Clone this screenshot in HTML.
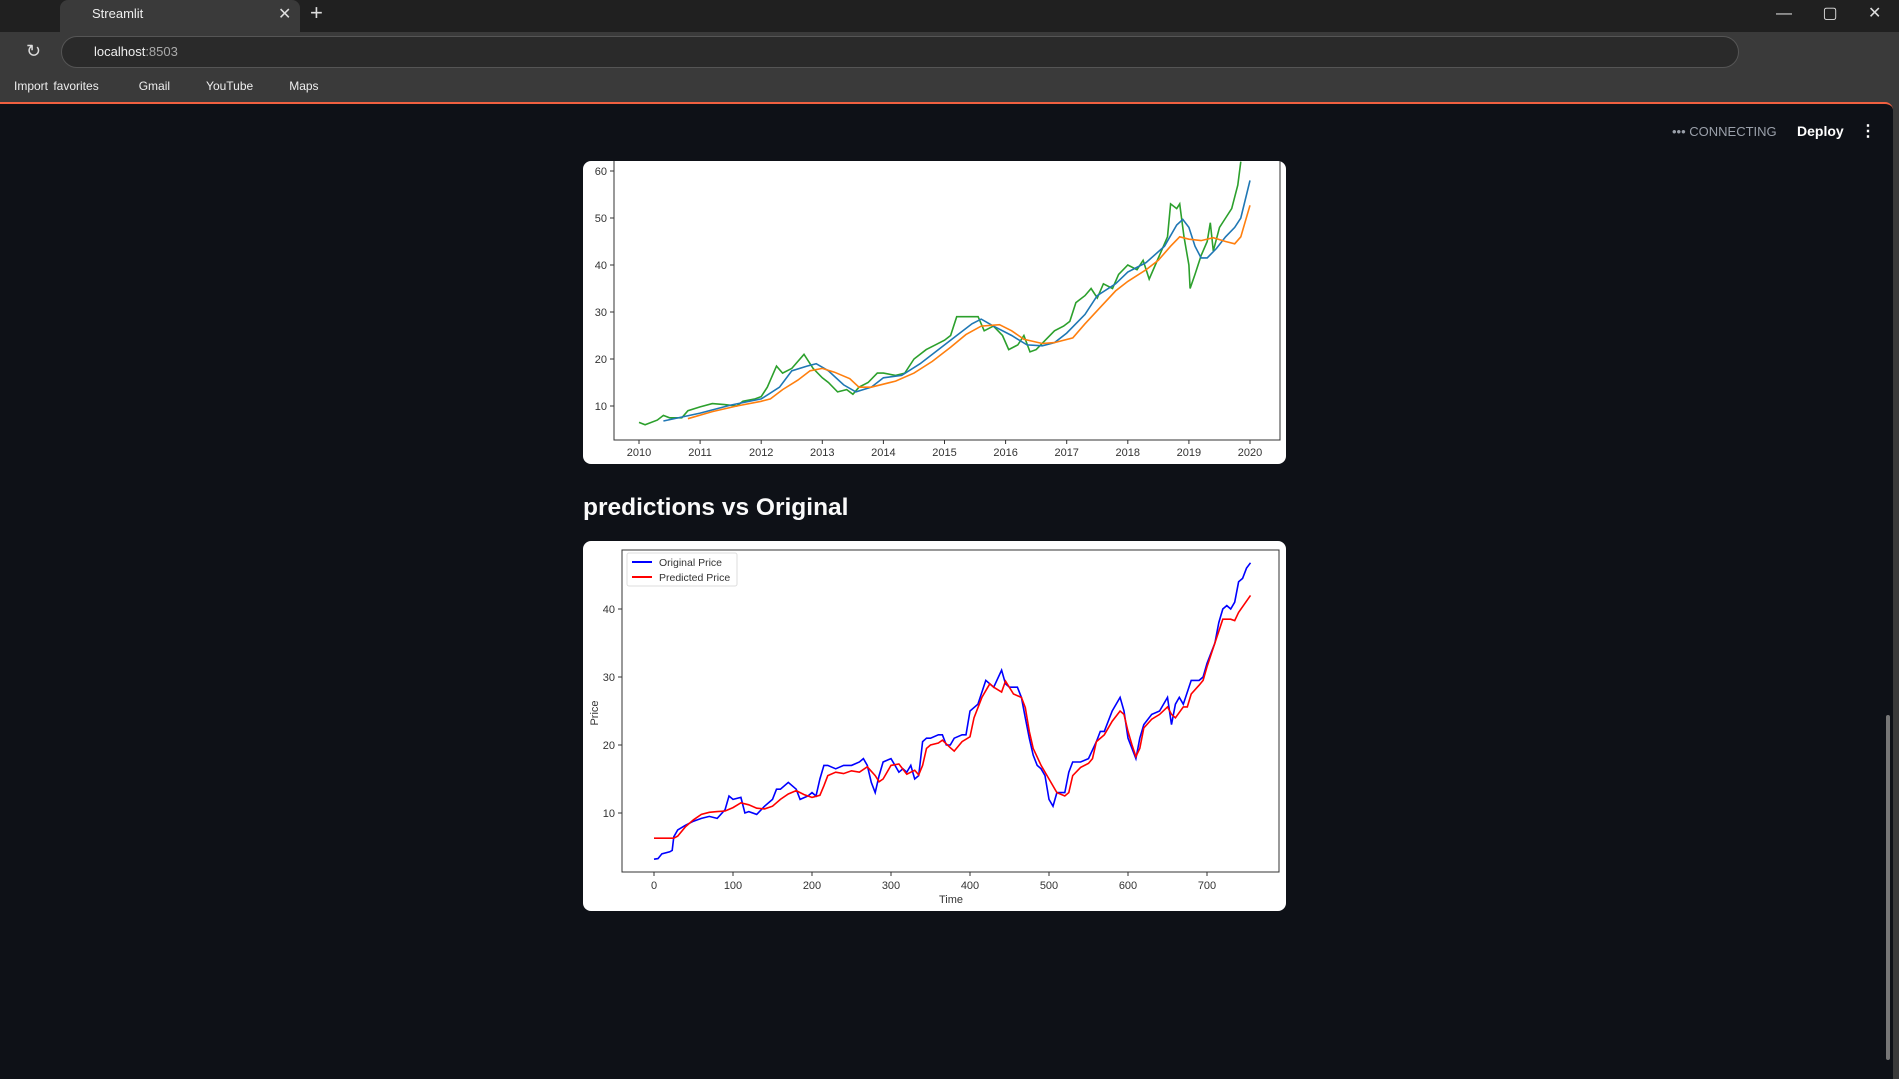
<!DOCTYPE html>
<html><head><meta charset="utf-8">
<style>
body{margin:0;width:1899px;height:1077px;overflow:hidden;background:#3a3a3a;font-family:"Liberation Sans",sans-serif;position:relative}
.abs{position:absolute}
</style></head>
<body>
<div class="abs" style="left:0;top:0;width:1899px;height:32px;background:#202020"></div>
<div class="abs" style="left:60px;top:0;width:240px;height:34px;background:#3a3a3a;border-radius:8px 8px 0 0"></div>
<div class="abs" style="left:92px;top:6px;color:#eee;font-size:13px">Streamlit</div>
<div class="abs" style="left:278px;top:4px;color:#ddd;font-size:16px">✕</div>
<div class="abs" style="left:310px;top:0px;color:#ddd;font-size:22px">+</div>
<div class="abs" style="left:1776px;top:3px;color:#ddd;font-size:16px;word-spacing:26px">— ▢ ✕</div>
<div class="abs" style="left:61px;top:36px;width:1676px;height:30px;background:#2a2a2a;border:1px solid #555;border-radius:16px"></div>
<div class="abs" style="left:94px;top:44px;color:#eee;font-size:13px">localhost<span style="color:#aaa">:8503</span></div>
<div class="abs" style="left:26px;top:41px;color:#ddd;font-size:18px">↻</div>
<div class="abs" style="left:14px;top:79px;color:#eee;font-size:12px;word-spacing:2px">Import favorites<span style="margin-left:40px">Gmail</span><span style="margin-left:36px">YouTube</span><span style="margin-left:36px">Maps</span></div>
<div class="abs" style="left:0;top:102px;width:1893px;height:975px;background:#0e1117;border-radius:0 8px 0 0;border-top:2px solid #f06040"></div>
<div class="abs" style="left:1672px;top:124px;color:#9aa0aa;font-size:13px">••• CONNECTING</div>
<div class="abs" style="left:1797px;top:123px;color:#fff;font-size:14px;font-weight:bold">Deploy</div>
<div class="abs" style="left:1860px;top:121px;color:#fff;font-size:16px;font-weight:bold">⋮</div>
<div class="abs" style="left:1886px;top:715px;width:4px;height:345px;background:#777;border-radius:2px"></div>
<div class="abs" style="left:583px;top:494px;color:#fafafa;font-size:24.5px;font-weight:bold">predictions vs Original</div>
<svg class="abs" style="left:0;top:0" width="1899" height="1077" id="svg"></svg>
<script>
// Chart 1: closing price with moving averages
const c1GreenX=[2010.0,2010.1,2010.3,2010.4,2010.5,2010.7,2010.8,2011.0,2011.2,2011.4,2011.6,2011.7,2011.9,2012.0,2012.1,2012.25,2012.35,2012.5,2012.7,2012.85,2013.0,2013.1,2013.25,2013.4,2013.5,2013.6,2013.75,2013.9,2014.0,2014.2,2014.35,2014.5,2014.7,2014.85,2015.0,2015.1,2015.2,2015.4,2015.55,2015.65,2015.8,2015.95,2016.05,2016.2,2016.3,2016.4,2016.5,2016.65,2016.8,2016.95,2017.05,2017.15,2017.3,2017.4,2017.5,2017.6,2017.75,2017.85,2018.0,2018.15,2018.25,2018.35,2018.45,2018.55,2018.65,2018.7,2018.8,2018.85,2018.92,2019.0,2019.02,2019.1,2019.2,2019.3,2019.35,2019.4,2019.5,2019.6,2019.7,2019.8,2019.85];
const c1Green=[6.5,6,7,8,7.5,7.5,9,9.8,10.5,10.3,10,11,11.5,12,14,18.5,17,18,21,18,16,15,13,13.5,12.5,14,15,17,17,16.5,17,20,22,23,24,25,29,29,29,26,27,25,22,23,25,21.5,22,24,26,27,28,32,33.5,35,33,36,35,38,40,39,41,37,40,43,46,53,52,53,46,40,35,38,42,45,49,43,48,50,52,57,62];
const c1BlueX=[2010.4,2011.0,2011.5,2012.0,2012.3,2012.5,2012.75,2012.9,2013.1,2013.35,2013.55,2013.8,2014.0,2014.3,2014.6,2014.9,2015.2,2015.45,2015.6,2015.8,2016.1,2016.35,2016.6,2016.8,2017.0,2017.3,2017.5,2017.8,2018.0,2018.3,2018.6,2018.8,2018.9,2019.0,2019.1,2019.2,2019.3,2019.45,2019.6,2019.75,2019.85,2020.0];
const c1Blue=[6.8,8.5,10.2,11.5,14,17.5,18.5,19,17.5,14.5,13,14,16,16.5,19,22,25,27.5,28.5,27,25,23,22.8,23.5,25.5,29.5,33.5,36,38.5,40.5,44,48.5,49.7,48,44,41.5,41.5,43.5,46,48,50,58];
const c1OrangeX=[2010.8,2011.2,2011.6,2012.0,2012.15,2012.35,2012.6,2012.8,2013.0,2013.2,2013.45,2013.6,2013.8,2014.2,2014.5,2014.8,2015.1,2015.35,2015.6,2015.9,2016.1,2016.3,2016.6,2016.8,2017.1,2017.3,2017.55,2017.8,2018.0,2018.3,2018.5,2018.7,2018.85,2019.0,2019.2,2019.4,2019.6,2019.75,2019.85,2020.0];
const c1Orange=[7.3,8.8,10,11,11.5,13.5,15.5,17.5,18,17.2,15.8,14,14,15.3,17,19.5,22.5,25.2,27,27.3,26,24.2,23.3,23.5,24.5,27.5,31,34.5,36.5,39,41,44,46,45.5,45.2,45.8,45,44.5,46,52.7];
const c1XTicks=[2010,2011,2012,2013,2014,2015,2016,2017,2018,2019,2020];
const c1YTicks=[10,20,30,40,50,60];
// Chart 2: predictions vs original
const c2OrigX=[0,5,10,20,23,25,30,40,50,60,70,80,90,95,100,110,115,120,130,140,150,155,160,170,180,185,195,200,205,210,215,220,230,240,250,260,265,270,275,280,285,290,300,305,310,315,320,325,330,335,340,345,350,360,365,370,375,380,390,395,400,410,420,425,430,440,445,450,460,465,470,475,480,485,490,495,500,505,510,515,520,525,530,540,550,560,565,570,580,590,595,600,605,610,615,620,630,640,650,655,660,665,670,680,690,695,700,710,715,720,725,730,735,740,745,750,755];
const c2Orig=[3.2,3.3,4,4.3,4.5,6.5,7.5,8.2,8.8,9.2,9.5,9.2,10.5,12.5,12,12.3,10,10.2,9.8,11,12,13.5,13.5,14.5,13.5,12,12.5,13,12.5,15,17,17,16.5,17,17,17.5,18,17,14.5,13,15.5,17.5,18,17,16,16.5,16,17,15,15.5,20.5,21,21,21.5,21.5,20,20,21,21.5,21.5,25,26,29.5,29,28.5,31,29,28.5,28.5,27,24,21,18.5,17,16.5,15.5,12,11,13,13,13,16,17.5,17.5,18,20.5,22,22,25,27,25,21,19.5,18,21,23,24.5,25,27,23,26,27,26,29.5,29.5,30,32,35,38,40,40.5,40,41,44,44.5,46,46.8];
const c2PredX=[0,25,30,40,50,60,70,80,90,100,110,120,130,140,150,160,170,180,190,200,210,215,220,230,240,250,260,270,280,285,290,300,310,320,330,335,340,345,350,360,365,375,380,390,400,405,415,425,430,440,445,455,465,470,475,480,490,500,510,520,525,530,540,550,555,560,570,580,590,595,600,605,610,615,620,630,640,650,655,660,670,675,680,690,695,700,710,720,730,735,740,755];
const c2Pred=[6.3,6.3,6.6,8,9,9.8,10.1,10.2,10.3,10.8,11.5,11.2,10.7,10.6,11,12,12.8,13.3,12.7,12.3,12.6,14,15.5,16,15.8,16.2,16,16.8,15.5,14.6,15,17,17.2,15.7,16.3,15.6,17,19.5,20,20.3,20.7,19.6,19.1,20.5,21.2,24,27,29,28.5,27.8,29.4,27.5,27,25.5,22,19.5,17,15,13,12.5,13,15.5,16.7,17.3,18,20.5,21.5,23.5,25,24.5,22,20,18.3,19.5,22.5,23.8,24.5,25.6,24.5,24,25.6,25.6,27.5,28.8,29.5,31.5,35,38.5,38.5,38.3,39.5,42];
const c2XTicks=[0,100,200,300,400,500,600,700];
const c2YTicks=[10,20,30,40];

const NS='http://www.w3.org/2000/svg';
const svg=document.getElementById('svg');
function mk(tag,attrs,parent){const e=document.createElementNS(NS,tag);for(const k in attrs)e.setAttribute(k,attrs[k]);(parent||svg).appendChild(e);return e;}
function path(xs,ys,sx,sy){return xs.map((x,i)=>(i?'L':'M')+sx(x).toFixed(1)+','+sy(ys[i]).toFixed(1)).join('');}

// card 1
const card1=mk('rect',{x:583,y:161,width:703,height:303,rx:8,fill:'#fff'});


mk('clipPath',{id:'cp1'});
mk('rect',{x:614,y:161,width:666,height:279},document.getElementById('cp1'));
const x1=v=>639+(v-2010)*61.1, y1=v=>406-(v-10)*4.7;
const g1=mk('g',{'clip-path':'url(#cp1)'});
const pg=mk('path',{d:path(c1GreenX,c1Green,x1,y1),fill:'none',stroke:'#2ca02c','stroke-width':1.6},g1);


const pb=mk('path',{d:path(c1BlueX,c1Blue,x1,y1),fill:'none',stroke:'#1f77b4','stroke-width':1.6},g1);


const po=mk('path',{d:path(c1OrangeX,c1Orange,x1,y1),fill:'none',stroke:'#ff7f0e','stroke-width':1.6},g1);


const sp1=mk('path',{d:'M614,161L614,440L1280,440L1280,161',fill:'none',stroke:'#333','stroke-width':1});


c1XTicks.forEach(t=>{mk('line',{x1:x1(t),x2:x1(t),y1:440,y2:444,stroke:'#333'});
 const tx=mk('text',{x:x1(t),y:456,'font-size':11,'text-anchor':'middle',fill:'#333'});tx.textContent=t;
 
 });
c1YTicks.forEach(t=>{mk('line',{x1:610,x2:614,y1:y1(t),y2:y1(t),stroke:'#333'});
 const tx=mk('text',{x:607,y:y1(t)+4,'font-size':11,'text-anchor':'end',fill:'#333'});tx.textContent=t;
 
 });

// card 2
const card2=mk('rect',{x:583,y:541,width:703,height:370,rx:8,fill:'#fff'});


const x2=v=>654+v*0.79, y2=v=>813-(v-10)*6.8;
const pOr=mk('path',{d:path(c2OrigX,c2Orig,x2,y2),fill:'none',stroke:'#0000ff','stroke-width':1.6});


const pPr=mk('path',{d:path(c2PredX,c2Pred,x2,y2),fill:'none',stroke:'#ff0000','stroke-width':1.6});


const fr2=mk('rect',{x:622,y:550,width:657,height:322,fill:'none',stroke:'#333','stroke-width':1});


c2XTicks.forEach(t=>{mk('line',{x1:x2(t),x2:x2(t),y1:872,y2:876,stroke:'#333'});
 const tx=mk('text',{x:x2(t),y:889,'font-size':11,'text-anchor':'middle',fill:'#333'});tx.textContent=t;
 
 });
c2YTicks.forEach(t=>{mk('line',{x1:618,x2:622,y1:y2(t),y2:y2(t),stroke:'#333'});
 const tx=mk('text',{x:615,y:y2(t)+4,'font-size':11,'text-anchor':'end',fill:'#333'});tx.textContent=t;
 
 });
const xt=mk('text',{x:951,y:903,'font-size':11,'text-anchor':'middle',fill:'#333'});xt.textContent='Time';


const yt=mk('text',{x:0,y:0,'font-size':11,'text-anchor':'middle',fill:'#333',transform:'translate(598,713) rotate(-90)'});yt.textContent='Price';


const lg=mk('g',{});


mk('rect',{x:627,y:553,width:110,height:33,rx:2,fill:'#fff',stroke:'#ddd'},lg);
mk('line',{x1:632,x2:652,y1:562,y2:562,stroke:'#0000ff','stroke-width':2},lg);
mk('line',{x1:632,x2:652,y1:577,y2:577,stroke:'#ff0000','stroke-width':2},lg);
const l1=mk('text',{x:659,y:566,'font-size':10.5,fill:'#333'},lg);l1.textContent='Original Price';


const l2=mk('text',{x:659,y:581,'font-size':10.5,fill:'#333'},lg);l2.textContent='Predicted Price';


</script>
</body></html>
